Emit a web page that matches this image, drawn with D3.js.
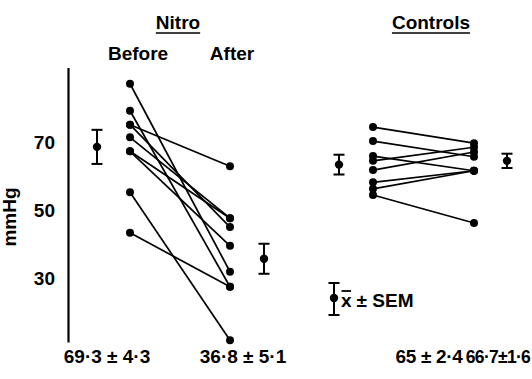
<!DOCTYPE html>
<html>
<head>
<meta charset="utf-8">
<script src="https://cdn.jsdelivr.net/npm/d3@7"></script>
<style>
  body { margin: 0; background: #fff; }
  svg { display: block; font-family: "Liberation Sans", Arial, sans-serif; font-weight: bold; }
</style>
</head>
<body>
<div id="chart"></div>
<script>
// values (mmHg), one entry per subject
const nitroBefore = [87.2, 79.3, 75.2, 75.2, 71.5, 67.4, 67.4, 55.4, 43.5];
const nitroAfter  = [32.1, 27.7, 63.0, 45.2, 47.8, 47.8, 39.7, 12.0, 27.7];
const ctrlBefore  = [74.5, 70.4, 66.0, 64.6, 61.9, 58.3, 56.4, 54.6];
const ctrlAfter   = [69.8, 65.8, 61.7, 68.6, 67.2, 61.7, 61.7, 46.4];

// group means and SEM as drawn
const meanLabels = ["69\u00b73 \u00b1 4\u00b73", "36\u00b78 \u00b1 5\u00b71", "65 \u00b1 2\u00b74", "66\u00b77\u00b11\u00b76"];
const meanValues = [68.7, 35.9, 63.5, 64.6];
const semValues  = [5.0, 4.4, 2.9, 2.1];

const yTicks = [30, 50, 70];

const width = 532, height = 379;

const svg = d3.select("#chart").append("svg")
    .attr("width", width)
    .attr("height", height);

const y = d3.scaleLinear().domain([11.5, 92]).range([342, 67.4]);

// axis: plain line, no tick marks
const axis = svg.append("g")
    .attr("transform", "translate(68,0)")
    .call(d3.axisLeft(y).tickValues(yTicks).tickSize(0).tickSizeOuter(0).tickPadding(13));
axis.select(".domain").attr("stroke", "#000").attr("stroke-width", 2.2);
axis.selectAll("text")
    .attr("font-size", 19)
    .attr("font-family", "Liberation Sans, Arial, sans-serif")
    .attr("font-weight", "bold")
    .attr("fill", "#000");

svg.append("text")
    .attr("transform", "translate(16,217) rotate(-90)")
    .attr("text-anchor", "middle")
    .attr("font-size", 19)
    .text("mmHg");

// paired lines + dots for one group
const drawPairs = (before, after, xb, xa) => {
    const pairs = before.map((b, i) => ({ b, a: after[i] }));
    const g = svg.append("g");
    g.selectAll("line")
        .data(pairs)
        .join("line")
        .attr("x1", xb).attr("x2", xa)
        .attr("y1", d => y(d.b)).attr("y2", d => y(d.a))
        .attr("stroke", "#000")
        .attr("stroke-width", 1.7);
    g.selectAll("circle.b")
        .data(before)
        .join("circle")
        .attr("class", "b")
        .attr("cx", xb).attr("cy", d => y(d)).attr("r", 4);
    g.selectAll("circle.a")
        .data(after)
        .join("circle")
        .attr("class", "a")
        .attr("cx", xa).attr("cy", d => y(d)).attr("r", 4);
};

drawPairs(nitroBefore, nitroAfter, 130, 230);
drawPairs(ctrlBefore, ctrlAfter, 373, 474);

// mean +/- SEM bars
const errX = [97, 264, 339, 507];

const errBar = (g, x, yTop, yMid, yBot) => {
    g.append("line").attr("x1", x).attr("x2", x).attr("y1", yTop).attr("y2", yBot)
        .attr("stroke", "#000").attr("stroke-width", 2);
    [yTop, yBot].forEach(v => g.append("line")
        .attr("x1", x - 5.5).attr("x2", x + 5.5).attr("y1", v).attr("y2", v)
        .attr("stroke", "#000").attr("stroke-width", 2));
    g.append("circle").attr("cx", x).attr("cy", yMid).attr("r", 4.2);
};

meanValues.forEach((m, i) => {
    errBar(svg.append("g"), errX[i], y(m + semValues[i]), y(m), y(m - semValues[i]));
});

// bottom labels: [x, font size, letter spacing]
const labelPos = [[107, 19, 0], [243, 19, 0], [429, 19, -0.3], [498, 17.5, -0.7]];
svg.append("g")
    .selectAll("text")
    .data(meanLabels)
    .join("text")
    .attr("x", (d, i) => labelPos[i][0])
    .attr("y", 363)
    .attr("text-anchor", "middle")
    .attr("font-size", (d, i) => labelPos[i][1])
    .attr("letter-spacing", (d, i) => labelPos[i][2])
    .text(d => d);

// headings
const heading = (text, cx, yy, underline) => {
    const t = svg.append("text")
        .attr("x", cx).attr("y", yy)
        .attr("text-anchor", "middle")
        .attr("font-size", 19)
        .text(text);
    if (underline) {
        const w = t.node().getComputedTextLength();
        svg.append("line")
            .attr("x1", cx - w / 2).attr("x2", cx + w / 2)
            .attr("y1", yy + 4).attr("y2", yy + 4)
            .attr("stroke", "#000").attr("stroke-width", 1.6);
    }
};
heading("Nitro", 178, 29, true);
heading("Before", 138, 60, false);
heading("After", 232, 60, false);
heading("Controls", 431, 29, true);

// legend
const leg = svg.append("g");
errBar(leg, 334, 283, 298, 315);
const xt = leg.append("text")
    .attr("x", 341).attr("y", 307)
    .attr("font-size", 19)
    .text("x");
const xw = xt.node().getComputedTextLength();
leg.append("line")
    .attr("x1", 341.5).attr("x2", 341 + xw - 0.5)
    .attr("y1", 291).attr("y2", 291)
    .attr("stroke", "#000").attr("stroke-width", 1.8);
leg.append("text")
    .attr("x", 341 + xw + 5).attr("y", 307)
    .attr("font-size", 19)
    .text("\u00b1 SEM");
</script>
</body>
</html>
